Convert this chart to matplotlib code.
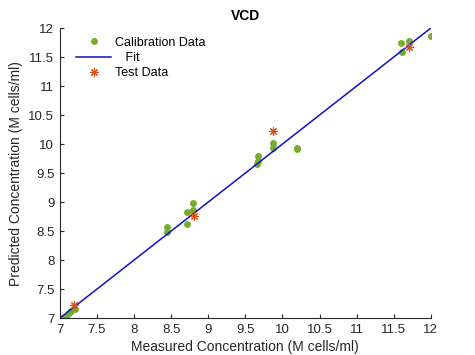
import matplotlib.pyplot as plt
import numpy as np

plt.rcParams['font.family'] = ['Liberation Sans', 'DejaVu Sans']

# calibration set (measured vs predicted, M cells/ml)
cal_meas = [7.04, 7.08, 7.12, 7.15, 7.2, 8.44, 8.44, 8.71, 8.72, 8.80, 8.80,
            9.67, 9.67, 9.66, 9.87, 9.87, 10.2, 10.2, 11.60, 11.61, 11.70, 12.0]
cal_pred = [7.0, 7.04, 7.08, 7.13, 7.15, 8.57, 8.49, 8.83, 8.63, 8.99, 8.86,
            9.79, 9.70, 9.66, 10.01, 9.94, 9.94, 9.91, 11.75, 11.58, 11.78, 11.87]

# test set
test_meas = [7.19, 8.81, 9.87, 11.70]
test_pred = [7.22, 8.76, 10.22, 11.68]

fit_x = [7, 12]
fit_y = [7, 12]

ticks = np.arange(7, 12.01, 0.5)
tick_labels = ['7', '7.5', '8', '8.5', '9', '9.5', '10', '10.5', '11', '11.5', '12']

fig = plt.figure(figsize=(4.75, 3.55), dpi=100)
ax = fig.add_axes([0.126, 0.104, 0.781, 0.817])

ax.plot(cal_meas, cal_pred, 'o', color='#77AC30', markersize=5,
        markeredgewidth=0, label='Calibration Data')
ax.plot(fit_x, fit_y, '-', color='#1010C8', linewidth=1.1, label='   Fit')
ax.plot(test_meas, test_pred, linestyle='none', marker=(8, 2, 0), color='#D95319',
        markersize=6, markeredgewidth=0.8, label='Test Data')

ax.set_xlim(7, 12)
ax.set_ylim(7, 12)
ax.set_xticks(ticks)
ax.set_xticklabels(tick_labels)
ax.set_yticks(ticks)
ax.set_yticklabels(tick_labels)

ax.spines['top'].set_visible(False)
ax.spines['right'].set_visible(False)
ax.spines['left'].set_color('#262626')
ax.spines['bottom'].set_color('#262626')
ax.tick_params(direction='in', length=3, colors='#262626', labelsize=9.5, pad=4)

ax.set_xlabel('Measured Concentration (M cells/ml)', fontsize=10, color='#262626', labelpad=3)
ax.set_ylabel('Predicted Concentration (M cells/ml)', fontsize=10, color='#262626', labelpad=4)
ax.set_title('VCD', fontsize=10, fontweight='bold', color='#000000', pad=6)

ax.legend(loc='upper left', frameon=False, fontsize=9, handlelength=2.8,
          handletextpad=0.3, labelspacing=0.25, borderaxespad=0.3,
          bbox_to_anchor=(0.02, 1.0))

fig.savefig('out.png', dpi=100)
